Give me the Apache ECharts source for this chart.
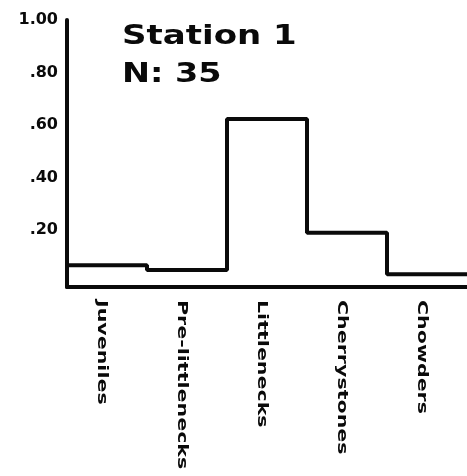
<!DOCTYPE html>
<html>
<head>
<meta charset="utf-8">
<script src="https://cdn.jsdelivr.net/npm/echarts@6/dist/echarts.min.js"></script>
<style>
html,body{margin:0;padding:0;background:#fff;}
#chart{width:467px;height:476px;}
</style>
</head>
<body>
<div id="chart"></div>
<script>
// ---- data ----
var categories = ['Juveniles', 'Pre-littlenecks', 'Littlenecks', 'Cherrystones', 'Chowders'];
var proportions = [0.066, 0.048, 0.623, 0.19, 0.032];
var yTicks = [0.2, 0.4, 0.6, 0.8, 1.0];
var yTickLabels = ['.20', '.40', '.60', '.80', '1.00'];
var titleText = 'Station 1';
var subText = 'N: 35';

// step outline points: each category spans [i, i+1]
var stepData = proportions.map(function (v, i) { return [i, v]; });
stepData.push([proportions.length, proportions[proportions.length - 1]]);

var chart = echarts.init(document.getElementById('chart'), null, {renderer: 'canvas'});
var ink = '#0a0a0a';
var yMin = -0.017;
chart.setOption({
  backgroundColor: '#fff',
  animation: false,
  grid: {left: 67, top: 20, width: 402, height: 267, containLabel: false},
  xAxis: [
    {type: 'category', data: categories, boundaryGap: true,
     axisLine: {show: true, onZero: false, lineStyle: {color: ink, width: 4}},
     axisTick: {show: false},
     splitLine: {show: false},
     axisLabel: {show: false}},
    {type: 'value', min: 0, max: categories.length, show: false}
  ],
  yAxis: {
    type: 'value', min: yMin, max: 1,
    axisLine: {show: true, onZero: false, lineStyle: {color: ink, width: 4}},
    axisTick: {show: false},
    splitLine: {show: false},
    axisLabel: {
      customValues: yTicks,
      margin: 9, fontFamily: 'DejaVu Sans', fontWeight: 'bold', fontSize: 16, color: ink,
      formatter: function (v) {
        var i = yTicks.findIndex(function (t) { return Math.abs(t - v) < 1e-6; });
        return i >= 0 ? yTickLabels[i] : '';
      }
    }
  },
  series: [{
    type: 'line', xAxisIndex: 1, step: 'end', data: stepData,
    symbol: 'none', lineStyle: {color: ink, width: 4}, silent: true
  }]
});

// Category labels (widely letter-spaced in the original) placed via the axis scale
var axisY = chart.convertToPixel({yAxisIndex: 0}, yMin);
var graphics = categories.map(function (c) {
  var px = chart.convertToPixel({xAxisIndex: 0}, c);
  return {
    type: 'text', x: px - 5, y: axisY + 13, rotation: -Math.PI / 2, scaleX: 1.47, silent: true,
    style: {text: c, fontFamily: 'DejaVu Sans', fontWeight: 'bold', fontSize: 14, fill: ink,
            align: 'left', verticalAlign: 'middle', textAlign: 'left', textVerticalAlign: 'middle'}
  };
});
graphics.push({
  type: 'text', x: 122, y: 37, scaleX: 1.26, silent: true,
  style: {text: titleText, fontFamily: 'DejaVu Sans', fontWeight: 'bold', fontSize: 27, fill: ink,
          align: 'left', verticalAlign: 'middle', textAlign: 'left', textVerticalAlign: 'middle'}
});
graphics.push({
  type: 'text', x: 122, y: 75, scaleX: 1.24, silent: true,
  style: {text: subText, fontFamily: 'DejaVu Sans', fontWeight: 'bold', fontSize: 27, fill: ink,
          align: 'left', verticalAlign: 'middle', textAlign: 'left', textVerticalAlign: 'middle'}
});
chart.setOption({graphic: graphics});
</script>
</body>
</html>
